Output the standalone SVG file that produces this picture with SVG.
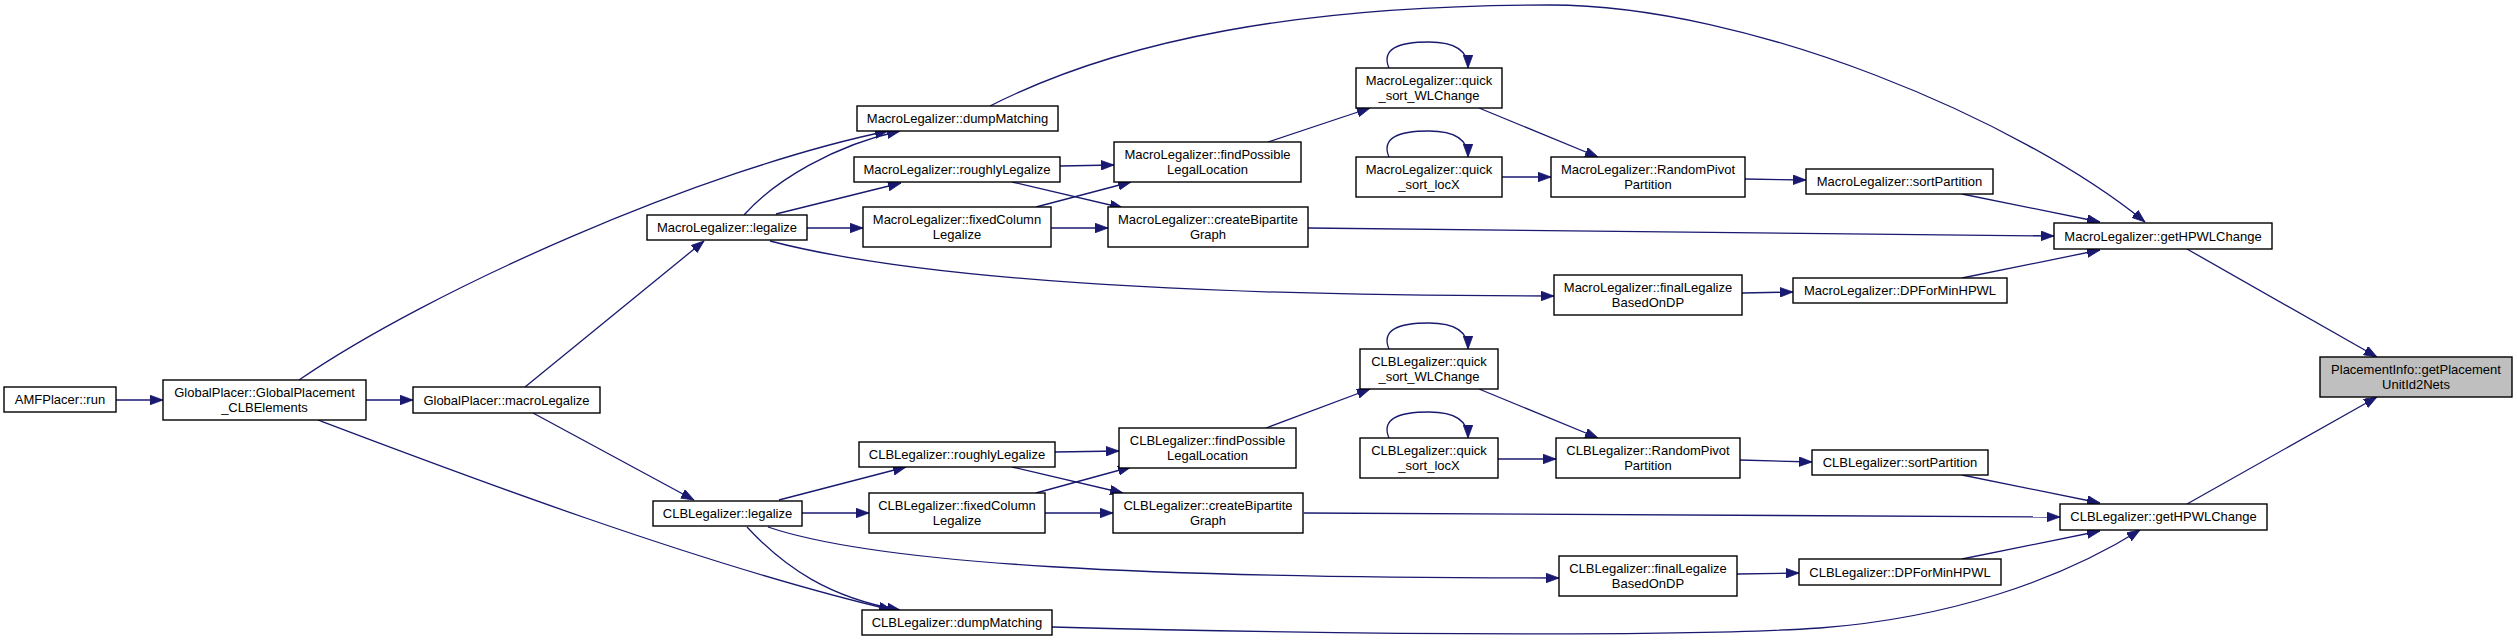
<svg xmlns="http://www.w3.org/2000/svg" width="2517" height="641" viewBox="0 0 2517 641">
<style>
.node rect{fill:#ffffff;stroke:#000000;stroke-width:1.4}
.node.root rect{fill:#bfbfbf}
.node text{font-family:"Liberation Sans",Arial,Helvetica,sans-serif;font-size:13px;fill:#000000;text-anchor:middle}
.edges path{fill:none;stroke:#191970;stroke-width:1.3}
</style>
<defs>
<marker id="ah" markerUnits="userSpaceOnUse" markerWidth="14" markerHeight="10" refX="13" refY="4.8" orient="auto">
<path d="M0,0 L13,4.8 L0,9.6 z" fill="#191970" stroke="#191970" stroke-width="0.8"/>
</marker>
</defs>
<rect width="2517" height="641" fill="#ffffff"/>
<g class="edges" marker-end="url(#ah)">
<path d="M116,400 L163,400" marker-end="url(#ah)"/>
<path d="M366,400 L413,400" marker-end="url(#ah)"/>
<path d="M299,380 C430,290 700,170 888,131" marker-end="url(#ah)"/>
<path d="M318,420 C450,470 700,565 892,610" marker-end="url(#ah)"/>
<path d="M525,387 L704,241" marker-end="url(#ah)"/>
<path d="M533,413 L694,500" marker-end="url(#ah)"/>
<path d="M744,215 C775,180 835,145 900,131" marker-end="url(#ah)"/>
<path d="M776,214 L901,183" marker-end="url(#ah)"/>
<path d="M807,228 L863,228" marker-end="url(#ah)"/>
<path d="M770,241 C900,275 1150,296 1554,296" marker-end="url(#ah)"/>
<path d="M1060,166 L1114,165" marker-end="url(#ah)"/>
<path d="M1012,182 L1123,208" marker-end="url(#ah)"/>
<path d="M1036,207 L1131,182" marker-end="url(#ah)"/>
<path d="M1051,228 L1108,228" marker-end="url(#ah)"/>
<path d="M1268,142 L1370,108" marker-end="url(#ah)"/>
<path d="M1308,228 L2054,236" marker-end="url(#ah)"/>
<path d="M1389,68 C1381,49 1398,42 1429,42 C1455,42 1468,50 1468,68" marker-end="url(#ah)"/>
<path d="M1389,157 C1381,138 1398,131 1429,131 C1455,131 1468,139 1468,157" marker-end="url(#ah)"/>
<path d="M1479,108 L1598,157" marker-end="url(#ah)"/>
<path d="M1502,177 L1551,177" marker-end="url(#ah)"/>
<path d="M1745,179 L1806,180" marker-end="url(#ah)"/>
<path d="M1742,293 L1793,292" marker-end="url(#ah)"/>
<path d="M1962,194 L2100,222" marker-end="url(#ah)"/>
<path d="M1962,278 L2100,250" marker-end="url(#ah)"/>
<path d="M990,106 C1120,40 1300,5 1550,5 C1750,5 2020,120 2145,222" marker-end="url(#ah)"/>
<path d="M2187,249 L2377,357" marker-end="url(#ah)"/>
<path d="M2187,504 L2377,397" marker-end="url(#ah)"/>
<path d="M779,500 L906,467" marker-end="url(#ah)"/>
<path d="M802,513 L869,513" marker-end="url(#ah)"/>
<path d="M747,527 C785,568 830,598 900,610" marker-end="url(#ah)"/>
<path d="M768,527 C880,565 1150,578 1559,578" marker-end="url(#ah)"/>
<path d="M1055,452 L1119,451" marker-end="url(#ah)"/>
<path d="M1012,467 L1123,493" marker-end="url(#ah)"/>
<path d="M1036,493 L1131,467" marker-end="url(#ah)"/>
<path d="M1045,513 L1113,513" marker-end="url(#ah)"/>
<path d="M1266,428 L1370,389" marker-end="url(#ah)"/>
<path d="M1304,513 L2060,517" marker-end="url(#ah)"/>
<path d="M1389,349 C1381,330 1398,323 1429,323 C1455,323 1468,331 1468,349" marker-end="url(#ah)"/>
<path d="M1389,438 C1381,419 1398,412 1429,412 C1455,412 1468,420 1468,438" marker-end="url(#ah)"/>
<path d="M1479,389 L1598,438" marker-end="url(#ah)"/>
<path d="M1498,459 L1556,459" marker-end="url(#ah)"/>
<path d="M1740,460 L1812,462" marker-end="url(#ah)"/>
<path d="M1737,574 L1799,573" marker-end="url(#ah)"/>
<path d="M1962,475 L2100,503" marker-end="url(#ah)"/>
<path d="M1962,559 L2100,531" marker-end="url(#ah)"/>
<path d="M1052,627 C1400,636 1700,636 1820,628 C1950,618 2060,580 2140,530" marker-end="url(#ah)"/>
</g>
<g id="n_amf" class="node"><rect x="4" y="387" width="112" height="25"/><text x="60" y="404">AMFPlacer::run</text></g>
<g id="n_gp_global" class="node"><rect x="163" y="380" width="203" height="40"/><text x="264.5" y="397">GlobalPlacer::GlobalPlacement</text><text x="264.5" y="412">_CLBElements</text></g>
<g id="n_gp_macro" class="node"><rect x="413" y="387" width="187" height="26"/><text x="506.5" y="404.5">GlobalPlacer::macroLegalize</text></g>
<g id="n_ml_legalize" class="node"><rect x="647" y="215" width="160" height="25"/><text x="727" y="232">MacroLegalizer::legalize</text></g>
<g id="n_cl_legalize" class="node"><rect x="653" y="501" width="149" height="25"/><text x="727.5" y="518">CLBLegalizer::legalize</text></g>
<g id="n_ml_dump" class="node"><rect x="857" y="106" width="201" height="25"/><text x="957.5" y="123">MacroLegalizer::dumpMatching</text></g>
<g id="n_ml_rough" class="node"><rect x="854" y="157" width="206" height="25"/><text x="957" y="174">MacroLegalizer::roughlyLegalize</text></g>
<g id="n_ml_fixed" class="node"><rect x="863" y="207" width="188" height="40"/><text x="957" y="224">MacroLegalizer::fixedColumn</text><text x="957" y="239">Legalize</text></g>
<g id="n_ml_find" class="node"><rect x="1114" y="142" width="187" height="40"/><text x="1207.5" y="159">MacroLegalizer::findPossible</text><text x="1207.5" y="174">LegalLocation</text></g>
<g id="n_ml_bip" class="node"><rect x="1108" y="207" width="200" height="40"/><text x="1208" y="224">MacroLegalizer::createBipartite</text><text x="1208" y="239">Graph</text></g>
<g id="n_ml_qswl" class="node"><rect x="1356" y="68" width="146" height="40"/><text x="1429" y="85">MacroLegalizer::quick</text><text x="1429" y="100">_sort_WLChange</text></g>
<g id="n_ml_qsx" class="node"><rect x="1356" y="157" width="146" height="40"/><text x="1429" y="174">MacroLegalizer::quick</text><text x="1429" y="189">_sort_locX</text></g>
<g id="n_ml_rpp" class="node"><rect x="1551" y="157" width="194" height="40"/><text x="1648" y="174">MacroLegalizer::RandomPivot</text><text x="1648" y="189">Partition</text></g>
<g id="n_ml_final" class="node"><rect x="1554" y="275" width="188" height="40"/><text x="1648" y="292">MacroLegalizer::finalLegalize</text><text x="1648" y="307">BasedOnDP</text></g>
<g id="n_ml_sort" class="node"><rect x="1806" y="169" width="187" height="25"/><text x="1899.5" y="186">MacroLegalizer::sortPartition</text></g>
<g id="n_ml_dp" class="node"><rect x="1793" y="278" width="214" height="25"/><text x="1900" y="295">MacroLegalizer::DPForMinHPWL</text></g>
<g id="n_ml_hpwl" class="node"><rect x="2054" y="223" width="218" height="26"/><text x="2163" y="240.5">MacroLegalizer::getHPWLChange</text></g>
<g id="n_pi" class="node root"><rect x="2320" y="357" width="192" height="40"/><text x="2416" y="374">PlacementInfo::getPlacement</text><text x="2416" y="389">UnitId2Nets</text></g>
<g id="n_cl_rough" class="node"><rect x="859" y="442" width="196" height="25"/><text x="957" y="459">CLBLegalizer::roughlyLegalize</text></g>
<g id="n_cl_fixed" class="node"><rect x="869" y="493" width="176" height="40"/><text x="957" y="510">CLBLegalizer::fixedColumn</text><text x="957" y="525">Legalize</text></g>
<g id="n_cl_dump" class="node"><rect x="862" y="610" width="190" height="25"/><text x="957" y="627">CLBLegalizer::dumpMatching</text></g>
<g id="n_cl_find" class="node"><rect x="1119" y="428" width="177" height="40"/><text x="1207.5" y="445">CLBLegalizer::findPossible</text><text x="1207.5" y="460">LegalLocation</text></g>
<g id="n_cl_bip" class="node"><rect x="1113" y="493" width="190" height="40"/><text x="1208" y="510">CLBLegalizer::createBipartite</text><text x="1208" y="525">Graph</text></g>
<g id="n_cl_qswl" class="node"><rect x="1360" y="349" width="138" height="40"/><text x="1429" y="366">CLBLegalizer::quick</text><text x="1429" y="381">_sort_WLChange</text></g>
<g id="n_cl_qsx" class="node"><rect x="1360" y="438" width="138" height="40"/><text x="1429" y="455">CLBLegalizer::quick</text><text x="1429" y="470">_sort_locX</text></g>
<g id="n_cl_rpp" class="node"><rect x="1556" y="438" width="184" height="40"/><text x="1648" y="455">CLBLegalizer::RandomPivot</text><text x="1648" y="470">Partition</text></g>
<g id="n_cl_final" class="node"><rect x="1559" y="556" width="178" height="40"/><text x="1648" y="573">CLBLegalizer::finalLegalize</text><text x="1648" y="588">BasedOnDP</text></g>
<g id="n_cl_sort" class="node"><rect x="1812" y="450" width="176" height="25"/><text x="1900" y="467">CLBLegalizer::sortPartition</text></g>
<g id="n_cl_dp" class="node"><rect x="1799" y="559" width="202" height="26"/><text x="1900" y="576.5">CLBLegalizer::DPForMinHPWL</text></g>
<g id="n_cl_hpwl" class="node"><rect x="2060" y="504" width="207" height="26"/><text x="2163.5" y="521">CLBLegalizer::getHPWLChange</text></g>
</svg>
